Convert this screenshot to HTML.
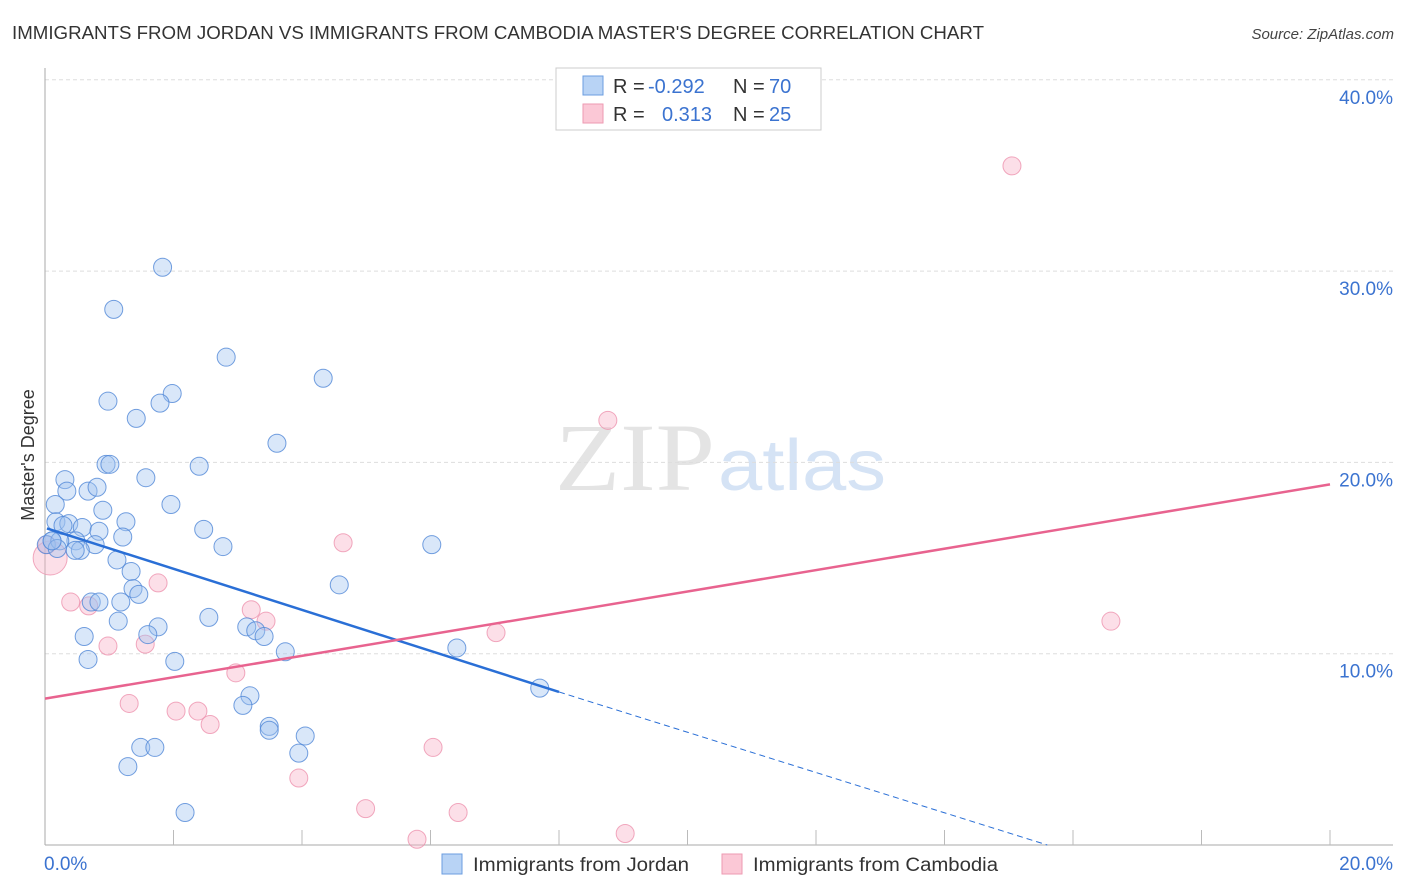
<!DOCTYPE html>
<html><head><meta charset="utf-8">
<style>
body{margin:0;background:#fff;font-family:"Liberation Sans",sans-serif;}
#wrap{position:relative;width:1406px;height:892px;overflow:hidden;}
</style></head>
<body><div id="wrap">
<svg id="svg" width="1406" height="892" xmlns="http://www.w3.org/2000/svg">
<text x="12" y="39" font-size="18" fill="#333" textLength="972" lengthAdjust="spacingAndGlyphs">IMMIGRANTS FROM JORDAN VS IMMIGRANTS FROM CAMBODIA MASTER'S DEGREE CORRELATION CHART</text>
<text x="1394" y="39" font-size="15" fill="#444" font-style="italic" text-anchor="end">Source: ZipAtlas.com</text>
<text x="555" y="490" font-size="96" fill="#e4e4e4" textLength="160" lengthAdjust="spacingAndGlyphs" font-family="Liberation Serif,serif">ZIP</text>
<text x="718" y="490" font-size="72" fill="#d5e3f5" textLength="168" lengthAdjust="spacingAndGlyphs">atlas</text>
<text transform="translate(34,455) rotate(-90)" font-size="18" fill="#333" text-anchor="middle">Master's Degree</text>
<g id="grid"></g><g id="axes"></g><g id="pts"></g><g id="trend"></g>
<g>
<rect x="556" y="68" width="265" height="62" fill="#fff" stroke="#ccc"/>
<rect x="583" y="76" width="20" height="19" fill="#b8d3f5" stroke="#6b9ee0"/>
<rect x="583" y="104" width="20" height="19" fill="#fbc8d6" stroke="#ee9ab2"/>
<text x="613" y="93" font-size="20" fill="#333">R = <tspan x="648" fill="#3b73d0">-0.292</tspan><tspan x="733">N = </tspan><tspan x="769" fill="#3b73d0">70</tspan></text>
<text x="613" y="121" font-size="20" fill="#333">R = <tspan x="662" fill="#3b73d0">0.313</tspan><tspan x="733">N = </tspan><tspan x="769" fill="#3b73d0">25</tspan></text>
</g>
<g>
<rect x="442" y="854" width="20" height="20" fill="#b8d3f5" stroke="#6b9ee0"/>
<text x="473" y="871" font-size="19" fill="#333" textLength="216" lengthAdjust="spacingAndGlyphs">Immigrants from Jordan</text>
<rect x="722" y="854" width="20" height="20" fill="#fbc8d6" stroke="#ee9ab2"/>
<text x="753" y="871" font-size="19" fill="#333" textLength="245" lengthAdjust="spacingAndGlyphs">Immigrants from Cambodia</text>
</g>
</svg>
<script>
const yTicks=[10,20,30,40];
const yTickLabels=["10.0%","20.0%","30.0%","40.0%"];
const xTickLabels=["0.0%","20.0%"];
const jordanX=[1.83,1.07,2.82,4.33,0.98,1.98,1.79,1.42,3.61,0.95,1.01,2.40,0.31,1.57,0.34,0.67,0.81,0.16,0.90,1.96,1.26,0.17,0.37,0.28,0.58,2.47,0.84,1.21,0.11,0.48,0.78,6.02,0.02,2.77,0.55,0.47,1.12,1.34,4.58,1.37,1.46,0.72,0.84,1.18,2.55,1.14,1.76,3.14,3.28,3.41,1.60,0.61,3.74,6.41,0.67,2.02,7.70,3.19,3.08,3.49,3.49,4.05,3.95,1.49,1.71,1.29,2.18,0.23,0.19,0.11];
const jordanY=[30.2,28.0,25.5,24.4,23.2,23.6,23.1,22.3,21.0,19.9,19.9,19.8,19.1,19.2,18.5,18.5,18.7,17.8,17.5,17.8,16.9,16.9,16.8,16.7,16.6,16.5,16.4,16.1,15.9,15.9,15.7,15.7,15.7,15.6,15.4,15.4,14.9,14.3,13.6,13.4,13.1,12.7,12.7,12.7,11.9,11.7,11.4,11.4,11.2,10.9,11.0,10.9,10.1,10.3,9.7,9.6,8.2,7.8,7.3,6.2,6.0,5.7,4.8,5.1,5.1,4.1,1.7,15.9,15.5,15.9];
const cambodiaX=[15.05,8.76,4.64,0.08,1.76,0.40,0.68,3.21,3.44,7.02,16.59,1.56,0.98,2.97,1.31,2.04,2.38,2.57,6.04,3.95,4.99,6.43,5.79,9.03,0.03];
const cambodiaY=[35.5,22.2,15.8,15.0,13.7,12.7,12.5,12.3,11.7,11.1,11.7,10.5,10.4,9.0,7.4,7.0,7.0,6.3,5.1,3.5,1.9,1.7,0.3,0.6,15.7];
const jordanTrend=[[0.03,16.55],[8.0,8.0],[15.6,0]];
const cambodiaTrend=[[0,7.65],[20,18.85]];
const X0=45,XS=64.25,Y0=845,YS=19.13;
const sx=v=>X0+v*XS, sy=v=>Y0-v*YS;
const NS="http://www.w3.org/2000/svg";
function mk(t,a,p){const e=document.createElementNS(NS,t);for(const k in a)e.setAttribute(k,a[k]);p.appendChild(e);return e;}
const grid=document.getElementById('grid'),axes=document.getElementById('axes');
yTicks.forEach((t,i)=>{
 const l=mk('line',{x1:45,x2:1393,y1:sy(t),y2:sy(t),stroke:'#ddd','stroke-dasharray':'4,3'},grid);
 
 
 const tx=mk('text',{x:1393,y:sy(t)+24,'font-size':19,fill:'#3b73d0','text-anchor':'end'},axes);
 tx.textContent=yTickLabels[i];
 
 
});
const ya=mk('line',{x1:45,x2:45,y1:68,y2:845,stroke:'#aaa'},axes);


const xa=mk('line',{x1:45,x2:1393,y1:845,y2:845,stroke:'#aaa'},axes);


for(let v=2;v<=20;v+=2){const t=mk('line',{x1:sx(v),x2:sx(v),y1:830,y2:845,stroke:'#bbb'},axes);
 
 }
[[0,70,'start'],[20,1393,'end']].forEach((d,i)=>{const t=mk('text',{x:d[1]-(i?0:26),y:870,'font-size':19,fill:'#3b73d0','text-anchor':d[2]},axes);t.textContent=xTickLabels[i];
 
 });
const pts=document.getElementById('pts');
cambodiaX.forEach((x,i)=>{const r=(i==3)?17:9;const c=mk('circle',{cx:sx(x),cy:sy(cambodiaY[i]),r:r,fill:'rgba(248,175,197,0.4)',stroke:'rgba(236,140,170,0.75)','stroke-width':1},pts);
 
 });
jordanX.forEach((x,i)=>{const c=mk('circle',{cx:sx(x),cy:sy(jordanY[i]),r:9,fill:'rgba(160,196,240,0.4)',stroke:'rgba(80,135,215,0.8)','stroke-width':1},pts);
 
 });
const tr=document.getElementById('trend');
const bt=mk('line',{x1:sx(jordanTrend[0][0]),y1:sy(jordanTrend[0][1]),x2:sx(jordanTrend[1][0]),y2:sy(jordanTrend[1][1]),stroke:'#2a6fd6','stroke-width':2.5},tr);


const bd=mk('line',{x1:sx(jordanTrend[1][0]),y1:sy(jordanTrend[1][1]),x2:sx(jordanTrend[2][0]),y2:sy(jordanTrend[2][1]),stroke:'#2a6fd6','stroke-width':1,'stroke-dasharray':'6,4'},tr);


const pt=mk('line',{x1:sx(cambodiaTrend[0][0]),y1:sy(cambodiaTrend[0][1]),x2:sx(cambodiaTrend[1][0]),y2:sy(cambodiaTrend[1][1]),stroke:'#e8638f','stroke-width':2.5},tr);


</script>
</div></body></html>
